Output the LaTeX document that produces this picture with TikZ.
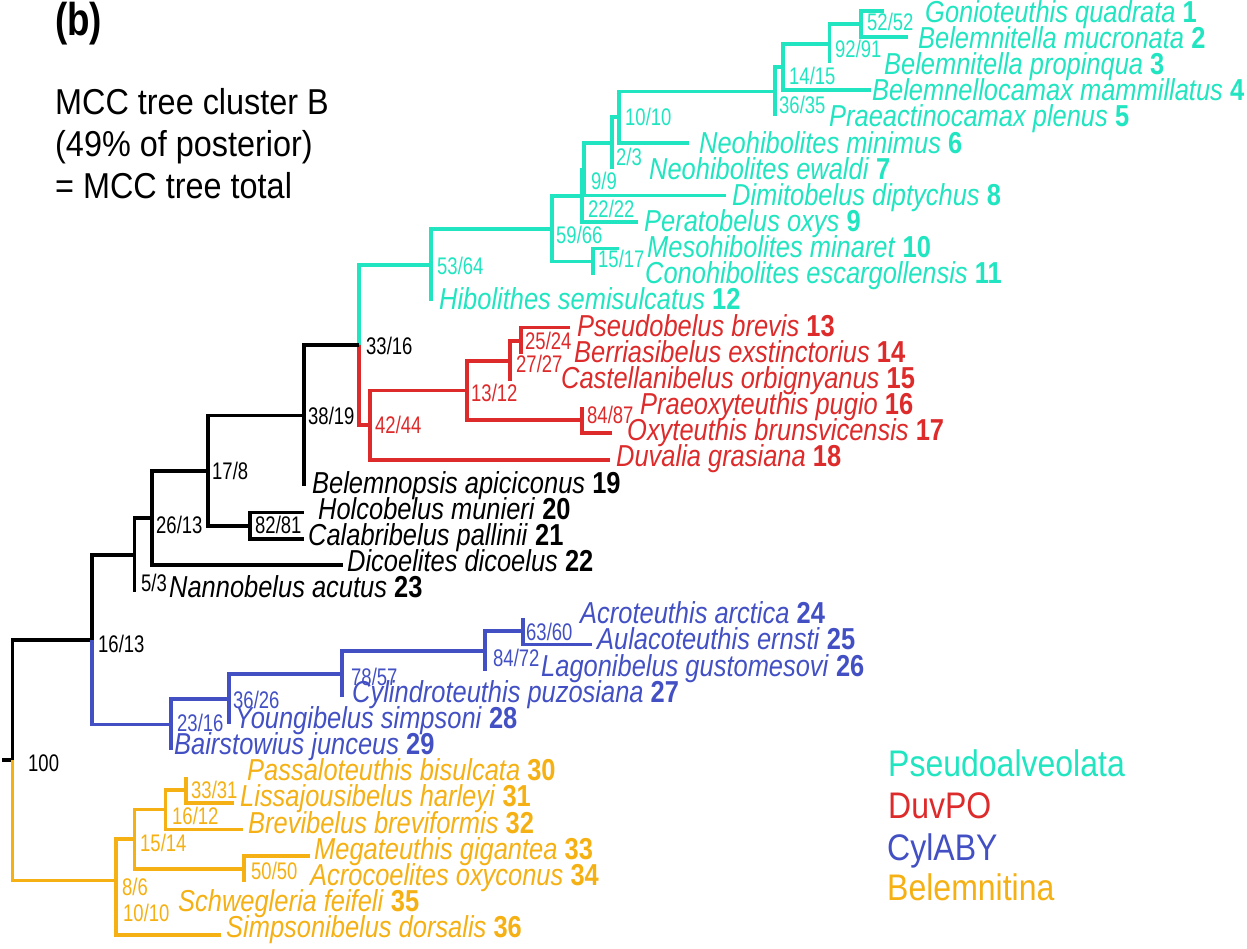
\documentclass[tikz,border=0pt]{standalone}
\usepackage{fontspec}
\setmainfont{Liberation Sans}
\newfontfamily\taxfont{Liberation Sans}[FakeStretch=0.84]
\newfontfamily\suppfont{Liberation Sans}[FakeStretch=0.77]
\newfontfamily\mccfont{Liberation Sans}[FakeStretch=0.9]
\newfontfamily\legfont{Liberation Sans}[FakeStretch=0.865]
\newfontfamily\panelfont{Liberation Sans}[FakeStretch=0.8]
\definecolor{tealc}{RGB}{32,229,192}
\definecolor{redc}{RGB}{221,42,42}
\definecolor{bluec}{RGB}{66,80,196}
\definecolor{orangec}{RGB}{245,176,20}
\tikzset{
  br/.style={line width=3.7pt, line cap=butt, line join=miter},
  taxon/.style={anchor=base west, inner sep=0pt, font=\taxfont\fontsize{30.3}{33}\selectfont},
  supp/.style={anchor=base west, inner sep=0pt, font=\suppfont\fontsize{24}{26}\selectfont},
  legend/.style={anchor=base west, inner sep=0pt, font=\legfont\fontsize{37}{40}\selectfont},
  mcc/.style={anchor=base west, inner sep=0pt, font=\mccfont\fontsize{36}{40}\selectfont},
}
\newcommand{\taxname}[2]{{\itshape #1} \textbf{#2}}
\begin{document}
\begin{tikzpicture}[x=1pt,y=-1pt]
\useasboundingbox (0,0) rectangle (1247,949);
% ---------- coordinates: tips ----------
\coordinate (t1) at (884,10.7);
\coordinate (t2) at (908,37.1);
\coordinate (t3) at (829.5,63.5);
\coordinate (t4) at (871,89.9);
\coordinate (t5) at (775,116.3);
\coordinate (t6) at (689,142.8);
\coordinate (t7) at (612,169.2);
\coordinate (t8) at (726,195.6);
\coordinate (t9) at (638,222.0);
\coordinate (t10) at (619,248.4);
\coordinate (t11) at (593,274.8);
\coordinate (t12) at (431,301.2);
\coordinate (t13) at (570,327.6);
\coordinate (t14) at (521,354.0);
\coordinate (t15) at (510,380.5);
\coordinate (t16) at (582,406.9);
\coordinate (t17) at (612,433.3);
\coordinate (t18) at (610,459.7);
\coordinate (t19) at (304,486.1);
\coordinate (t20) at (304,512.5);
\coordinate (t21) at (304,538.9);
\coordinate (t22) at (343,565.3);
\coordinate (t23) at (134.5,591.7);
\coordinate (t24) at (523,618.1);
\coordinate (t25) at (592,644.6);
\coordinate (t26) at (485,671.0);
\coordinate (t27) at (342,697.4);
\coordinate (t28) at (229,723.8);
\coordinate (t29) at (171,750.2);
\coordinate (t30) at (186,776.6);
\coordinate (t31) at (234,803.0);
\coordinate (t32) at (243,829.4);
\coordinate (t33) at (309.5,855.8);
\coordinate (t34) at (244,882.2);
\coordinate (t35) at (116,908.6);
\coordinate (t36) at (221,935.1);
% ---------- internal nodes ----------
\coordinate (n52) at (861,23.9);
\coordinate (n92) at (829.5,43.7);
\coordinate (n14) at (783,66.8);
\coordinate (n36) at (775,91.6);
\coordinate (n10) at (619,117.2);
\coordinate (n2) at (612,143.2);
\coordinate (n9) at (584,169.4);
\coordinate (n22) at (582,195.7);
\coordinate (n15) at (593,261.6);
\coordinate (n59) at (552,228.7);
\coordinate (n53) at (431,265.0);
\coordinate (n25) at (521,340.8);
\coordinate (n27) at (510,360.7);
\coordinate (n84) at (582,420.1);
\coordinate (n13) at (467,390.4);
\coordinate (n42) at (370,425.1);
\coordinate (n33) at (359,345.0);
\coordinate (n38) at (304,415.6);
\coordinate (n82) at (250,525.7);
\coordinate (n17) at (208,470.7);
\coordinate (n26) at (152,518.0);
\coordinate (n5) at (134.5,554.9);
\coordinate (n63) at (523,631.3);
\coordinate (n84b) at (485,651.2);
\coordinate (n78) at (342,674.3);
\coordinate (n36b) at (229,699.0);
\coordinate (n23b) at (171,724.6);
\coordinate (n16) at (92,639.8);
\coordinate (n33o) at (186,789.8);
\coordinate (n16o) at (165.5,809.6);
\coordinate (n50) at (244,869.0);
\coordinate (n15o) at (134.5,839.3);
\coordinate (n10o) at (116,921.8);
\coordinate (n8) at (116,880.6);
\coordinate (root) at (12.5,760.2);
\coordinate (stub) at (2,760.2);
% ---------- branches ----------
\begin{scope}[br, draw=tealc]
\draw (n52) |- (t1); \draw (n52) |- (t2);
\draw (n92) |- (n52); \draw (n92) |- (t3);
\draw (n14) |- (n92); \draw (n14) |- (t4);
\draw (n36) |- (n14); \draw (n36) |- (t5);
\draw (n10) |- (n36); \draw (n10) |- (t6);
\draw (n2) |- (n10); \draw (n2) |- (t7);
\draw (n9) |- (n2); \draw (n9) |- (t8);
\draw (n22) |- (n9); \draw (n22) |- (t9);
\draw (n15) |- (t10); \draw (n15) |- (t11);
\draw (n59) |- (n22); \draw (n59) |- (n15);
\draw (n53) |- (n59); \draw (n53) |- (t12);
\draw (n33) |- (n53);
\end{scope}
\begin{scope}[br, draw=redc]
\draw (n25) |- (t13); \draw (n25) |- (t14);
\draw (n27) |- (n25); \draw (n27) |- (t15);
\draw (n84) |- (t16); \draw (n84) |- (t17);
\draw (n13) |- (n27); \draw (n13) |- (n84);
\draw (n42) |- (n13); \draw (n42) |- (t18);
\draw (n33) |- (n42);
\end{scope}
\begin{scope}[br, draw=black]
\draw (n38) |- (n33); \draw (n38) |- (t19);
\draw (n82) |- (t20); \draw (n82) |- (t21);
\draw (n17) |- (n38); \draw (n17) |- (n82);
\draw (n26) |- (n17); \draw (n26) |- (t22);
\draw (n5) |- (n26); \draw (n5) |- (t23);
\draw (n16) |- (n5);
\draw (root) |- (n16);
\draw (stub) -- (root);
\end{scope}
\begin{scope}[br, draw=bluec]
\draw (n63) |- (t24); \draw (n63) |- (t25);
\draw (n84b) |- (n63); \draw (n84b) |- (t26);
\draw (n78) |- (n84b); \draw (n78) |- (t27);
\draw (n36b) |- (n78); \draw (n36b) |- (t28);
\draw (n23b) |- (n36b); \draw (n23b) |- (t29);
\draw (n16) |- (n23b);
\end{scope}
\begin{scope}[br, draw=orangec]
\draw (n33o) |- (t30); \draw (n33o) |- (t31);
\draw (n16o) |- (n33o); \draw (n16o) |- (t32);
\draw (n50) |- (t33); \draw (n50) |- (t34);
\draw (n15o) |- (n16o); \draw (n15o) |- (n50);
\draw (n10o) |- (t35); \draw (n10o) |- (t36);
\draw (n8) |- (n15o); \draw (n8) |- (n10o);
\draw (root) |- (n8);
\end{scope}
% ---------- taxon labels ----------
\begin{scope}[every node/.append style={text=tealc}]
\node[taxon] (l1) at (925,22.3) {\taxname{Gonioteuthis quadrata}{1}};
\node[taxon] (l2) at (918,48.5) {\taxname{Belemnitella mucronata}{2}};
\node[taxon] (l3) at (884,74.6) {\taxname{Belemnitella propinqua}{3}};
\node[taxon] (l4) at (872,100.8) {\taxname{Belemnellocamax mammillatus}{4}};
\node[taxon] (l5) at (829,126.9) {\taxname{Praeactinocamax plenus}{5}};
\node[taxon] (l6) at (699,153.1) {\taxname{Neohibolites minimus}{6}};
\node[taxon] (l7) at (649,179.2) {\taxname{Neohibolites ewaldi}{7}};
\node[taxon] (l8) at (732,205.4) {\taxname{Dimitobelus diptychus}{8}};
\node[taxon] (l9) at (644,231.5) {\taxname{Peratobelus oxys}{9}};
\node[taxon] (l10) at (647,257.7) {\taxname{Mesohibolites minaret}{10}};
\node[taxon] (l11) at (645,283.8) {\taxname{Conohibolites escargollensis}{11}};
\node[taxon] (l12) at (439,310.0) {\taxname{Hibolithes semisulcatus}{12}};
\end{scope}
\begin{scope}[every node/.append style={text=redc}]
\node[taxon] (l13) at (577,336.1) {\taxname{Pseudobelus brevis}{13}};
\node[taxon] (l14) at (574,362.3) {\taxname{Berriasibelus exstinctorius}{14}};
\node[taxon] (l15) at (561,388.4) {\taxname{Castellanibelus orbignyanus}{15}};
\node[taxon] (l16) at (640,414.6) {\taxname{Praeoxyteuthis pugio}{16}};
\node[taxon] (l17) at (627,440.7) {\taxname{Oxyteuthis brunsvicensis}{17}};
\node[taxon] (l18) at (616,466.9) {\taxname{Duvalia grasiana}{18}};
\end{scope}
\node[taxon] (l19) at (312,493.0) {\taxname{Belemnopsis apiciconus}{19}};
\node[taxon] (l20) at (318,519.2) {\taxname{Holcobelus munieri}{20}};
\node[taxon] (l21) at (308,545.3) {\taxname{Calabribelus pallinii}{21}};
\node[taxon] (l22) at (347,571.5) {\taxname{Dicoelites dicoelus}{22}};
\node[taxon] (l23) at (169,597.6) {\taxname{Nannobelus acutus}{23}};
\begin{scope}[every node/.append style={text=bluec}]
\node[taxon] (l24) at (580,623.8) {\taxname{Acroteuthis arctica}{24}};
\node[taxon] (l25) at (597,649.9) {\taxname{Aulacoteuthis ernsti}{25}};
\node[taxon] (l26) at (541,676.1) {\taxname{Lagonibelus gustomesovi}{26}};
\node[taxon] (l27) at (352,702.2) {\taxname{Cylindroteuthis puzosiana}{27}};
\node[taxon] (l28) at (235,728.4) {\taxname{Youngibelus simpsoni}{28}};
\node[taxon] (l29) at (174,754.5) {\taxname{Bairstowius junceus}{29}};
\end{scope}
\begin{scope}[every node/.append style={text=orangec}]
\node[taxon] (l30) at (247,780.7) {\taxname{Passaloteuthis bisulcata}{30}};
\node[taxon] (l31) at (240,806.8) {\taxname{Lissajousibelus harleyi}{31}};
\node[taxon] (l32) at (248,833.0) {\taxname{Brevibelus breviformis}{32}};
\node[taxon] (l33) at (314,859.1) {\taxname{Megateuthis gigantea}{33}};
\node[taxon] (l34) at (310,885.3) {\taxname{Acrocoelites oxyconus}{34}};
\node[taxon] (l35) at (178,911.4) {\taxname{Schwegleria feifeli}{35}};
\node[taxon] (l36) at (226,937.6) {\taxname{Simpsonibelus dorsalis}{36}};
\end{scope}
% ---------- support values ----------
\begin{scope}[every node/.append style={text=tealc}]
\node[supp] (s52) at (867,31) {52/52};
\node[supp] (s92) at (835,58) {92/91};
\node[supp] (s14) at (789,85) {14/15};
\node[supp] (s36) at (779,114) {36/35};
\node[supp] (s10) at (625,126) {10/10};
\node[supp] (s2) at (616,165.5) {2/3};
\node[supp] (s9) at (591,189.5) {9/9};
\node[supp] (s22) at (588,218) {22/22};
\node[supp] (s59) at (556,244) {59/66};
\node[supp] (s15) at (598,268) {15/17};
\node[supp] (s53) at (437,275) {53/64};
\end{scope}
\begin{scope}[every node/.append style={text=redc}]
\node[supp] (s42) at (375,433) {42/44};
\node[supp] (s13) at (471,401) {13/12};
\node[supp] (s27) at (516,373) {27/27};
\node[supp] (s25) at (525,350) {25/24};
\node[supp] (s84) at (587,423) {84/87};
\end{scope}
\node[supp] (s33) at (366,355) {33/16};
\node[supp] (s38) at (308,424) {38/19};
\node[supp] (s17) at (212,479) {17/8};
\node[supp] (s82) at (255,533.5) {82/81};
\node[supp] (s26) at (156,533) {26/13};
\node[supp] (s5) at (141,591) {5/3};
\node[supp] (s16) at (98,652.5) {16/13};
\node[supp] (sroot) at (28,771) {100};
\begin{scope}[every node/.append style={text=bluec}]
\node[supp] (s23b) at (177,731) {23/16};
\node[supp] (s36b) at (233,708) {36/26};
\node[supp] (s78) at (351,685) {78/57};
\node[supp] (s84b) at (493,666) {84/72};
\node[supp] (s63) at (526,640) {63/60};
\end{scope}
\begin{scope}[every node/.append style={text=orangec}]
\node[supp] (s33o) at (191,798) {33/31};
\node[supp] (s16o) at (172,824.5) {16/12};
\node[supp] (s15o) at (140,851) {15/14};
\node[supp] (s50) at (251,879.5) {50/50};
\node[supp] (s8) at (122,895) {8/6};
\node[supp] (s10o) at (123,921) {10/10};
\end{scope}
% ---------- titles and legend ----------
\node[anchor=base west, inner sep=0pt, font=\panelfont\bfseries\fontsize{46}{50}\selectfont] (panel) at (55,36) {(b)};
\node[mcc] (m1) at (55,115) {MCC tree cluster B};
\node[mcc] (m2) at (55,156.7) {(49\% of posterior)};
\node[mcc] (m3) at (55,199) {= MCC tree total};
\node[legend, text=tealc] (g1) at (888,776) {Pseudoalveolata};
\node[legend, text=redc] (g2) at (888,818) {DuvPO};
\node[legend, text=bluec] (g3) at (887,860.7) {CylABY};
\node[legend, text=orangec] (g4) at (887,900.7) {Belemnitina};
\end{tikzpicture}
\end{document}
